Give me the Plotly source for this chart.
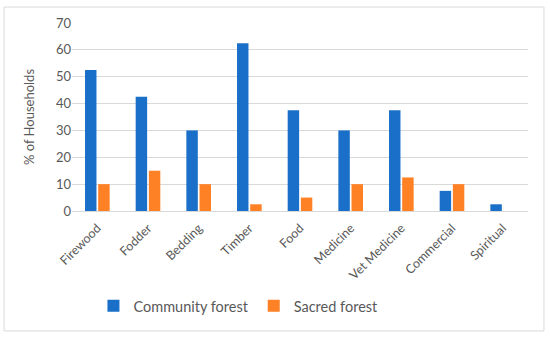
import plotly.graph_objects as go

categories = ["Firewood", "Fodder", "Bedding", "Timber", "Food", "Medicine", "Vet Medicine", "Commercial", "Spiritual"]
community = [52.5, 42.5, 30, 62.5, 37.5, 30, 37.5, 7.5, 2.5]
sacred = [10, 15, 10, 2.5, 5, 10, 12.5, 10, 0]
y_ticks = [0, 10, 20, 30, 40, 50, 60, 70]

FONT = "Lato, Open Sans, sans-serif"
GRAY = "#595959"

fig = go.Figure()
fig.add_trace(go.Bar(x=categories, y=community, name="Community forest",
                     marker=dict(color="#1A6FC8", line=dict(width=0))))
fig.add_trace(go.Bar(x=categories, y=sacred, name="Sacred forest",
                     marker=dict(color="#FF8126", line=dict(width=0))))

fig.update_layout(
    width=550, height=337,
    margin=dict(l=72, r=22, t=23, b=126),
    paper_bgcolor="white", plot_bgcolor="white",
    barmode="group", bargap=0.48, bargroupgap=0.13,
    font=dict(family=FONT, color=GRAY, size=12),
    showlegend=True,
    legend=dict(orientation="h", x=0.365, xanchor="center", y=-0.505, yanchor="middle",
                font=dict(size=14.5, color=GRAY), itemwidth=30, traceorder="normal"),
    xaxis=dict(tickangle=-45, showgrid=False, showline=False, ticks="outside", ticklen=4,
               tickcolor="rgba(0,0,0,0)", tickfont=dict(size=12.5, color=GRAY)),
    yaxis=dict(range=[0, 70], tickvals=y_ticks, showgrid=True, gridcolor="#D9D9D9",
               gridwidth=1, zeroline=True, zerolinecolor="#D9D9D9", zerolinewidth=1,
               showline=False, ticks="", ticklen=0, tickfont=dict(size=13, color=GRAY),
               title=dict(text="% of Households", font=dict(size=13, color=GRAY), standoff=18)),
    shapes=[dict(type="rect", xref="paper", yref="paper", x0=-0.149, x1=1.035, y0=-0.638, y1=1.085,
                 line=dict(color="#D9D9D9", width=1), fillcolor="rgba(0,0,0,0)", layer="below")],
)

fig.write_html("out.html", config={"displayModeBar": False},
               post_script="document.body.style.margin='0';")
